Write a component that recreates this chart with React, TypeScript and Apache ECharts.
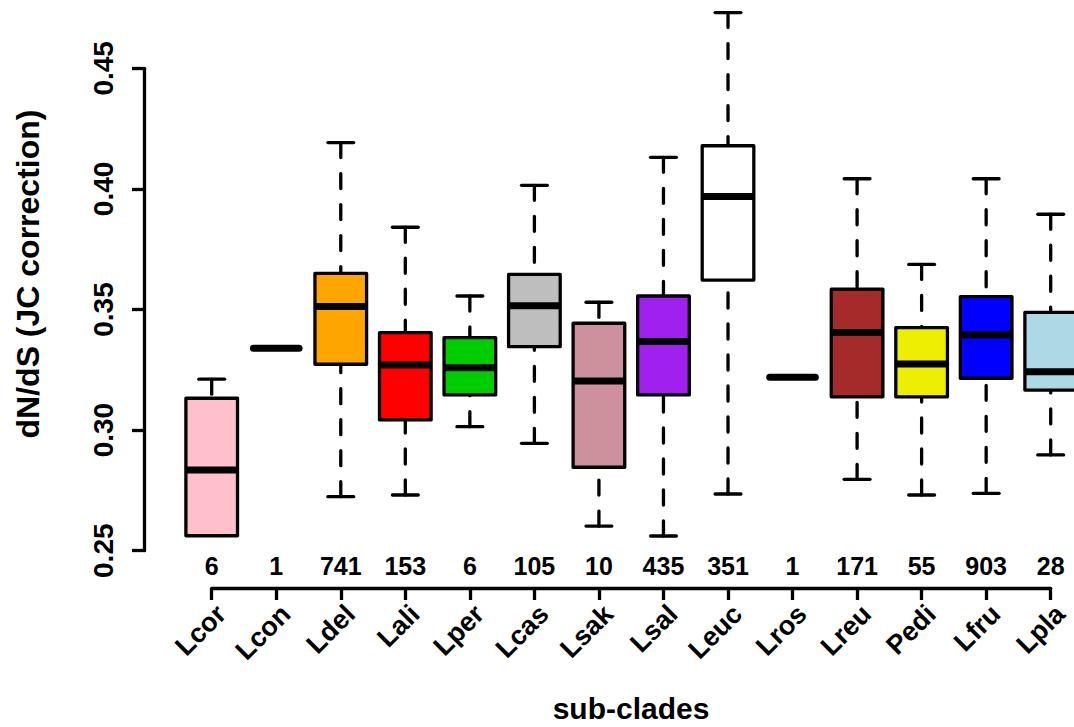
import React, { useEffect, useRef } from "react";
import * as echarts from "echarts";

const categories = ["Lcor", "Lcon", "Ldel", "Lali", "Lper", "Lcas", "Lsak", "Lsal", "Leuc", "Lros", "Lreu", "Pedi", "Lfru", "Lpla"];
const counts = [6, 1, 741, 153, 6, 105, 10, 435, 351, 1, 171, 55, 903, 28];
const whiskerLow = [0.2562, 0.3339, 0.2724, 0.2731, 0.3014, 0.2945, 0.2602, 0.2561, 0.2735, 0.3219, 0.2796, 0.2731, 0.2738, 0.2897];
const q1 = [0.2562, 0.3339, 0.3273, 0.3042, 0.3146, 0.3346, 0.2846, 0.3146, 0.3622, 0.3219, 0.3138, 0.3138, 0.3215, 0.3166];
const median = [0.2835, 0.3339, 0.3512, 0.327, 0.3259, 0.3516, 0.3204, 0.3367, 0.3968, 0.3219, 0.3405, 0.3274, 0.3394, 0.3242];
const q3 = [0.3132, 0.3339, 0.365, 0.3404, 0.3383, 0.3646, 0.3443, 0.3556, 0.4179, 0.3219, 0.3584, 0.3425, 0.3553, 0.3488];
const whiskerHigh = [0.3211, 0.3339, 0.4192, 0.3841, 0.3556, 0.4015, 0.353, 0.4131, 0.4731, 0.3219, 0.4042, 0.3687, 0.4042, 0.3895];
const fillColors = ["#FFC0CB", "#FFFFFF", "#FFA500", "#FF0000", "#00CD00", "#BEBEBE", "#CD919E", "#A020F0", "#FFFFFF", "#FFFFFF", "#A52A2A", "#EEEE00", "#0000FF", "#ADD8E6"];
const yTicks = [0.25, 0.3, 0.35, 0.4, 0.45];

const FONT = "'Liberation Sans', Arial, Helvetica, sans-serif";

export default function App() {
  const ref = useRef<HTMLDivElement>(null);
  useEffect(() => {
    if (!ref.current) return;
    const chart = echarts.init(ref.current, null, { renderer: "svg" });
    const data = categories.map((c, i) => [i + 1, whiskerLow[i], q1[i], median[i], q3[i], whiskerHigh[i], counts[i], i]);
    const LW = 3.3;
    const option: any = {
      animation: false,
      backgroundColor: "#ffffff",
      grid: { left: 211.7, top: 68.3, width: 839, height: 482.4, containLabel: false },
      xAxis: [
        {
          type: "value",
          min: 1,
          max: 14,
          interval: 1,
          position: "bottom",
          offset: 37.3,
          splitLine: { show: false },
          axisLine: { show: true, lineStyle: { color: "#000", width: LW } },
          axisTick: { show: true, length: 12, lineStyle: { color: "#000", width: LW } },
          axisLabel: {
            rotate: 45,
            margin: 12,
            align: "right",
            verticalAlign: "top",
            color: "#000",
            fontSize: 27,
            fontWeight: "bold",
            fontFamily: FONT,
            formatter: (v: number) => categories[Math.round(v) - 1] ?? "",
          },
        },
        {
          type: "value",
          min: 1,
          max: 14,
          interval: 1,
          position: "bottom",
          offset: 0,
          splitLine: { show: false },
          axisLine: { show: false },
          axisTick: { show: false },
          axisLabel: {
            margin: 3,
            color: "#000",
            fontSize: 25,
            fontWeight: "bold",
            fontFamily: FONT,
            formatter: (v: number) => String(counts[Math.round(v) - 1] ?? ""),
          },
        },
      ],
      yAxis: {
        type: "value",
        min: yTicks[0],
        max: yTicks[yTicks.length - 1],
        interval: 0.05,
        offset: 67.7,
        splitLine: { show: false },
        axisLine: { show: true, lineStyle: { color: "#000", width: LW } },
        axisTick: { show: true, length: 12, lineStyle: { color: "#000", width: LW } },
        axisLabel: {
          rotate: 90,
          margin: 27,
          color: "#000",
          fontSize: 28,
          fontWeight: "bold",
          fontFamily: FONT,
          formatter: (v: number) => v.toFixed(2),
        },
      },
      graphic: [
        {
          type: "text",
          x: 28,
          y: 274,
          rotation: Math.PI / 2,
          style: {
            text: "dN/dS (JC correction)",
            fontSize: 32,
            fontWeight: "bold",
            fontFamily: FONT,
            fill: "#000",
            align: "center",
            verticalAlign: "middle",
            textAlign: "center",
            textVerticalAlign: "middle",
          },
        },
        {
          type: "text",
          x: 631,
          y: 708,
          style: {
            text: "sub-clades",
            fontSize: 30,
            fontWeight: "bold",
            fontFamily: FONT,
            fill: "#000",
            align: "center",
            verticalAlign: "middle",
            textAlign: "center",
            textVerticalAlign: "middle",
          },
        },
      ],
      series: [
        {
          type: "custom",
          xAxisIndex: 0,
          yAxisIndex: 0,
          clip: false,
          data,
          encode: { x: 0, y: [1, 2, 3, 4, 5] },
          renderItem: (params: any, api: any) => {
            const x = api.value(0);
            const lo = api.value(1);
            const b1 = api.value(2);
            const md = api.value(3);
            const b3 = api.value(4);
            const hi = api.value(5);
            const n = api.value(6);
            const idx = api.value(7);
            const left = api.coord([x - 0.4, md])[0];
            const right = api.coord([x + 0.4, md])[0];
            const cx = api.coord([x, md])[0];
            const capL = api.coord([x - 0.2, md])[0];
            const capR = api.coord([x + 0.2, md])[0];
            const yLo = api.coord([x, lo])[1];
            const y1 = api.coord([x, b1])[1];
            const yMd = api.coord([x, md])[1];
            const y3 = api.coord([x, b3])[1];
            const yHi = api.coord([x, hi])[1];
            const children: any[] = [];
            if (n <= 1) {
              children.push({
                type: "line",
                shape: { x1: left + 3, y1: yMd, x2: right - 3, y2: yMd },
                style: { stroke: "#000", lineWidth: 7, lineCap: "round" },
              });
              return { type: "group", children };
            }
            const dashStyle = { stroke: "#000", lineWidth: LW, lineDash: [15, 16], lineCap: "round", fill: null };
            const solid = { stroke: "#000", lineWidth: LW, lineCap: "round", fill: null };
            if (Math.abs(yHi - y3) > 0.5) {
              children.push({ type: "line", shape: { x1: cx, y1: yHi, x2: cx, y2: y3 }, style: dashStyle });
            }
            children.push({ type: "line", shape: { x1: capL, y1: yHi, x2: capR, y2: yHi }, style: solid });
            if (Math.abs(yLo - y1) > 0.5) {
              children.push({ type: "line", shape: { x1: cx, y1: yLo, x2: cx, y2: y1 }, style: dashStyle });
              children.push({ type: "line", shape: { x1: capL, y1: yLo, x2: capR, y2: yLo }, style: solid });
            }
            children.push({
              type: "rect",
              shape: { x: left, y: y3, width: right - left, height: y1 - y3 },
              style: { fill: fillColors[idx], stroke: "#000", lineWidth: LW, lineJoin: "round" },
            });
            children.push({
              type: "line",
              shape: { x1: left, y1: yMd, x2: right, y2: yMd },
              style: { stroke: "#000", lineWidth: 7, lineCap: "butt" },
            });
            return { type: "group", children };
          },
        },
      ],
    };
    chart.setOption(option);
    return () => chart.dispose();
  }, []);
  return (
    <div
      ref={ref}
      style={{ position: "fixed", left: 0, top: 0, width: 1074, height: 727, background: "#fff" }}
    />
  );
}
